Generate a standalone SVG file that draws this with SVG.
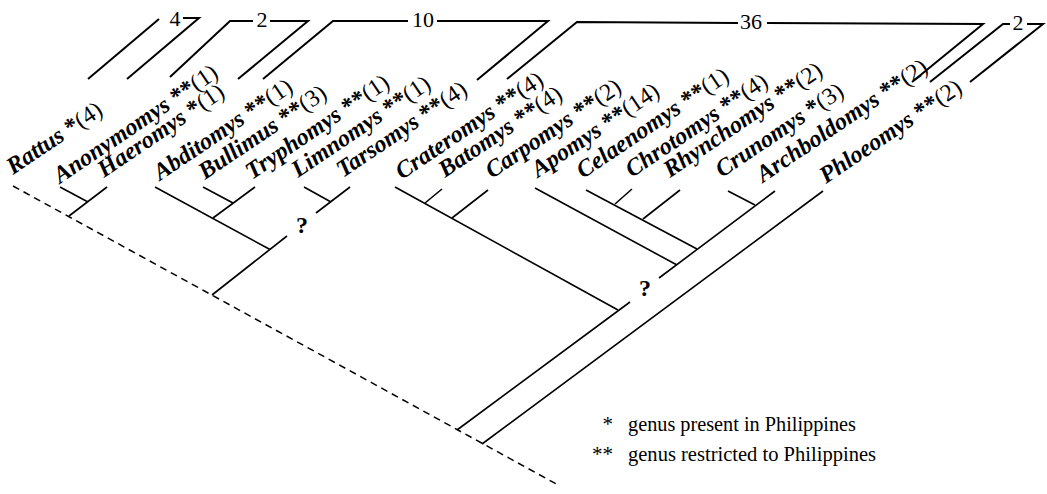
<svg xmlns="http://www.w3.org/2000/svg" width="1047" height="494" viewBox="0 0 1047 494">
<style>
.ln{stroke:#000;stroke-width:1.6;fill:none;stroke-linecap:butt}
.br{stroke:#000;stroke-width:2;fill:none}
.dash{stroke:#000;stroke-width:1.5;fill:none;stroke-dasharray:7 5}
.lab{font-family:"Liberation Serif","Times New Roman",serif;font-size:24px;fill:#000}
.g{font-weight:bold;font-style:italic}
.s{font-weight:bold}
.num{font-family:"Liberation Serif","Times New Roman",serif;font-size:22px;fill:#000;text-anchor:middle}
.q{font-family:"Liberation Serif","Times New Roman",serif;font-size:24px;font-weight:bold;fill:#000;text-anchor:middle}
.leg{font-family:"Liberation Serif","Times New Roman",serif;font-size:21px;fill:#000}
</style>
<rect width="1047" height="494" fill="#fff"/>

<g id="labels" class="lab">
<text id="n-rattus" transform="translate(13,175) rotate(-34)"><tspan class="g">Rattus</tspan> <tspan class="s">*</tspan>(4)</text>
<text id="n-anonymomys" transform="translate(60,184) rotate(-34)"><tspan class="g">Anonymomys</tspan> <tspan class="s">**</tspan>(1)</text>
<text id="n-haeromys" transform="translate(104,178) rotate(-34)"><tspan class="g">Haeromys</tspan> <tspan class="s">*</tspan>(1)</text>
<text id="n-abditomys" transform="translate(160,181) rotate(-34)"><tspan class="g">Abditomys</tspan> <tspan class="s">**</tspan>(1)</text>
<text id="n-bullimus" transform="translate(205,180) rotate(-34)"><tspan class="g">Bullimus</tspan> <tspan class="s">**</tspan>(3)</text>
<text id="n-tryphomys" transform="translate(252,180) rotate(-34)"><tspan class="g">Tryphomys</tspan> <tspan class="s">**</tspan>(1)</text>
<text id="n-limnomys" transform="translate(298,178) rotate(-34)"><tspan class="g">Limnomys</tspan> <tspan class="s">**</tspan>(1)</text>
<text id="n-tarsomys" transform="translate(343,178) rotate(-34)"><tspan class="g">Tarsomys</tspan> <tspan class="s">**</tspan>(4)</text>
<text id="n-crateromys" transform="translate(402,180) rotate(-34)"><tspan class="g">Crateromys</tspan> <tspan class="s">**</tspan>(4)</text>
<text id="n-batomys" transform="translate(445,178) rotate(-34)"><tspan class="g">Batomys</tspan> <tspan class="s">**</tspan>(4)</text>
<text id="n-carpomys" transform="translate(492,179) rotate(-34)"><tspan class="g">Carpomys</tspan> <tspan class="s">**</tspan>(2)</text>
<text id="n-apomys" transform="translate(538,178) rotate(-34)"><tspan class="g">Apomys</tspan> <tspan class="s">**</tspan>(14)</text>
<text id="n-celaenomys" transform="translate(583,179) rotate(-34)"><tspan class="g">Celaenomys</tspan> <tspan class="s">**</tspan>(1)</text>
<text id="n-chrotomys" transform="translate(632,178) rotate(-34)"><tspan class="g">Chrotomys</tspan> <tspan class="s">**</tspan>(4)</text>
<text id="n-rhynchomys" transform="translate(670,178) rotate(-34)"><tspan class="g">Rhynchomys</tspan> <tspan class="s">**</tspan>(2)</text>
<text id="n-crunomys" transform="translate(722,178) rotate(-34)"><tspan class="g">Crunomys</tspan> <tspan class="s">*</tspan>(3)</text>
<text id="n-archboldomys" transform="translate(763,183) rotate(-34)"><tspan class="g">Archboldomys</tspan> <tspan class="s">**</tspan>(2)</text>
<text id="n-phloeomys" transform="translate(826,184) rotate(-34)"><tspan class="g">Phloeomys</tspan> <tspan class="s">**</tspan>(2)</text>
</g>

<g id="connectors">
<line class="dash" x1="13" y1="186" x2="560" y2="486"/>
<!-- Anonymomys + Haeromys -->
<line class="ln" x1="60" y1="187" x2="88" y2="202"/>
<line class="ln" x1="107" y1="187" x2="69" y2="216"/>
<!-- Abditomys clade -->
<line class="ln" x1="155" y1="187" x2="270" y2="249.5"/>
<line class="ln" x1="203" y1="187" x2="233" y2="203"/>
<line class="ln" x1="255" y1="187" x2="213" y2="218"/>
<line class="ln" x1="212" y1="295" x2="287" y2="236"/>
<!-- Limnomys + Tarsomys -->
<line class="ln" x1="304" y1="187" x2="331" y2="202"/>
<line class="ln" x1="350" y1="187" x2="316" y2="213"/>
<!-- Crateromys clade -->
<line class="ln" x1="395" y1="187" x2="618" y2="310"/>
<line class="ln" x1="442" y1="189" x2="425" y2="203"/>
<line class="ln" x1="488" y1="190" x2="452" y2="218"/>
<line class="ln" x1="457" y1="430" x2="630" y2="302"/>
<!-- Apomys clade -->
<line class="ln" x1="535" y1="188" x2="677" y2="265"/>
<line class="ln" x1="586" y1="190" x2="697" y2="249"/>
<line class="ln" x1="632" y1="189" x2="615" y2="204"/>
<line class="ln" x1="680" y1="190" x2="643" y2="219"/>
<line class="ln" x1="728" y1="191" x2="755" y2="205"/>
<line class="ln" x1="775" y1="191" x2="659" y2="278"/>
<!-- Phloeomys -->
<line class="ln" x1="482" y1="444" x2="823" y2="191"/>
</g>

<g id="brackets">
<polyline class="br" points="88,79 159,19"/>
<polyline class="br" points="183,18 199,18 127,79"/>
<text class="num" x="175" y="26">4</text>
<polyline class="br" points="170,77 230,21 253,21"/>
<polyline class="br" points="270,21 308,21 238,79"/>
<text class="num" x="262" y="27">2</text>
<polyline class="br" points="263,79 333,21 408,21"/>
<polyline class="br" points="437,21 548,21 477,80"/>
<text class="num" x="423" y="27">10</text>
<polyline class="br" points="507,79 577,22 738,23"/>
<polyline class="br" points="767,23 983,24 912,82"/>
<text class="num" x="751" y="29">36</text>
<polyline class="br" points="930,82 1003,24 1010,24"/>
<polyline class="br" points="1027,24 1043,24 970,82"/>
<text class="num" x="1018" y="30">2</text>
</g>

<g id="marks">
<text class="q" x="302" y="233">?</text>
<text class="q" x="645" y="296">?</text>
</g>

<g id="legend" class="leg">
<text x="613" y="431" text-anchor="end">*</text>
<text x="628" y="431" textLength="228" lengthAdjust="spacingAndGlyphs">genus present in Philippines</text>
<text x="613" y="461" text-anchor="end">**</text>
<text x="628" y="461" textLength="248" lengthAdjust="spacingAndGlyphs">genus restricted to Philippines</text>
</g>
</svg>
